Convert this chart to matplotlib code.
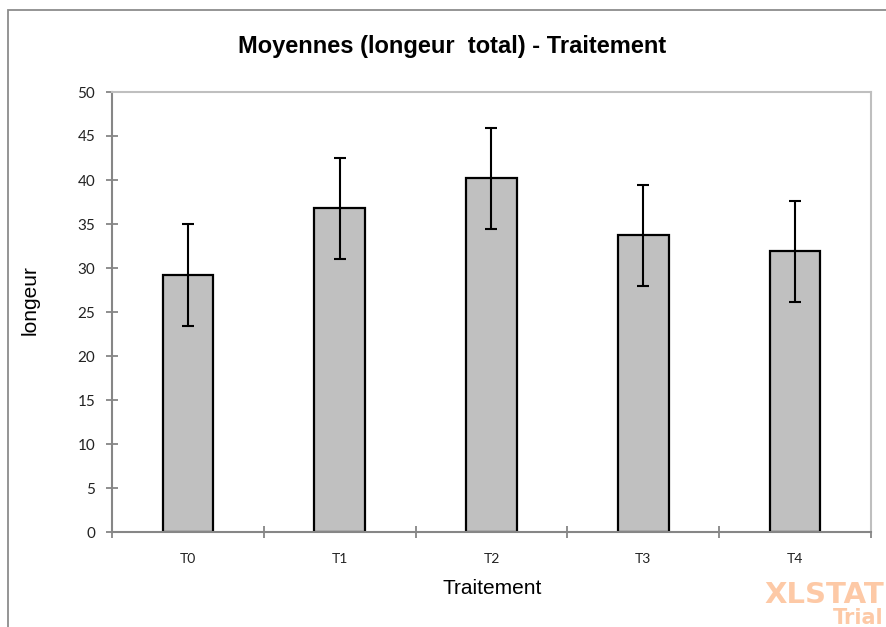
import matplotlib
matplotlib.use("Agg")
import matplotlib.pyplot as plt
from matplotlib.patches import Rectangle
import numpy as np

categories = ["T0", "T1", "T2", "T3", "T4"]
means = [29.2, 36.8, 40.2, 33.7, 31.9]
errors = [5.75, 5.75, 5.75, 5.75, 5.75]
yticks = [0, 5, 10, 15, 20, 25, 30, 35, 40, 45, 50]

W, H = 887, 627
fig = plt.figure(figsize=(W / 100, H / 100), dpi=100)
fig.patch.set_facecolor("white")

# outer chart frame
fig.add_artist(Rectangle((8 / W, -0.01), 1.0, (H - 10) / H + 0.01, transform=fig.transFigure,
                         fill=False, edgecolor="#8c8c8c", linewidth=1.3))

left, right, top, bottom = 112, 871, 92, 532
ax = fig.add_axes([left / W, (H - bottom) / H, (right - left) / W, (bottom - top) / H])

x = np.arange(len(categories))
ax.bar(x, means, width=1 / 3, color="#C0C0C0", edgecolor="black", linewidth=1.6, zorder=2)
ax.errorbar(x, means, yerr=errors, fmt="none", ecolor="black", elinewidth=1.5,
            capsize=4.5, capthick=1.5, zorder=3)

ax.set_xlim(-0.5, len(categories) - 0.5)
ax.set_ylim(0, 50)
ax.set_yticks(yticks)
ax.set_yticklabels([str(v) for v in yticks], fontfamily="Lato", fontsize=11, color="#222222")
ax.set_xticks(x)
ax.set_xticklabels(categories, fontfamily="Lato", fontsize=10, color="#222222")
ax.set_xticks(np.arange(len(categories) + 1) - 0.5, minor=True)
ax.tick_params(axis="x", which="major", length=0, pad=15)
ax.tick_params(axis="x", which="minor", direction="inout", length=8, width=1.3, color="#868686")
ax.tick_params(axis="y", direction="inout", length=8, width=1.3, color="#868686", pad=8)

for s in ["left", "bottom"]:
    ax.spines[s].set_color("#868686")
    ax.spines[s].set_linewidth(1.5)
for s in ["top", "right"]:
    ax.spines[s].set_color("#BFBFBF")
    ax.spines[s].set_linewidth(1.5)

fig.text(492 / W, 1 - 588 / H, "Traitement", ha="center", va="center",
         fontfamily="Liberation Sans", fontsize=15)
fig.text(30 / W, 1 - 300 / H, "longeur", ha="center", va="center", rotation=90,
         fontfamily="Liberation Sans", fontsize=15)

fig.text(452 / W, 1 - 46 / H, "Moyennes (longeur  total) - Traitement", ha="center", va="center",
         fontfamily="Liberation Sans", fontweight="bold", fontsize=17)

# watermark (kept fully inside the image)
fig.text(884 / W, 1 - 595 / H, "XLSTAT", ha="right", va="center", fontfamily="DejaVu Sans",
         fontweight="bold", fontsize=21, color="#FDC9A6")
fig.text(884 / W, 1 - 624 / H, "Trial", ha="right", va="baseline", fontfamily="DejaVu Sans",
         fontweight="bold", fontsize=15, color="#FDC9A6")

fig.savefig("out.png", dpi=100, facecolor="white")
